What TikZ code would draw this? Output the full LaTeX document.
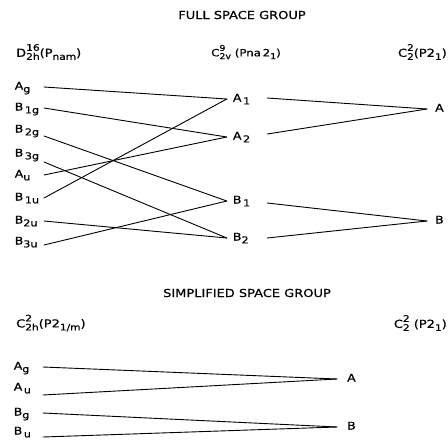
\documentclass[tikz,border=0pt]{standalone}
\usepackage{fontspec}
\setmainfont{DejaVu Sans}[FakeStretch=1.18, FakeBold=0.6]
% subscript only
\newcommand{\Sb}[3][9.5]{#2\raisebox{-0.5ex}{\fontsize{#1}{#1}\selectfont #3}}
% superscript over subscript
\newcommand{\SbSp}[4][9]{#2\rlap{\raisebox{1.0ex}{\fontsize{#1}{#1}\selectfont #3}}\raisebox{-0.5ex}{\fontsize{#1}{#1}\selectfont #4}}
\begin{document}
\begin{tikzpicture}[x=1pt,y=-1pt,
  title/.style={font=\fontsize{11}{13}\selectfont, inner sep=0pt},
  head/.style={font=\fontsize{11}{13}\selectfont, inner sep=0pt},
  headsm/.style={font=\fontsize{10}{12}\selectfont, inner sep=0pt},
  lbl/.style={font=\fontsize{10.5}{12}\selectfont, inner sep=0pt, text height=7pt, text depth=2pt},
  leftlbl/.style={lbl, anchor=east, text width=29pt, align=left},
  midlbl/.style={lbl, text width=28pt, inner xsep=6pt, align=left},
  rightlbl/.style={lbl, anchor=west, inner xsep=8pt},
  simplbl/.style={lbl, anchor=west, inner xsep=10pt},
  conn/.style={line width=0.9pt, line cap=round}]
\useasboundingbox (0,0) rectangle (448,440);

% titles
\node[title] (t1) at (242,15) {FULL SPACE GROUP};
\node[title] (t2) at (247,293) {SIMPLIFIED SPACE GROUP};

% headers full
\node[head, anchor=west] (h1) at (16,52) {\SbSp{D}{16}{2h}(P\Sb[9]{}{nam})};
\node[headsm, anchor=west] (h2) at (211,52) {\SbSp[8]{C}{9}{2v} (Pna\,2\Sb[8]{}{1})};
\node[head, anchor=east] (h3) at (447,52) {\SbSp{C}{2}{2}(P2\Sb[9]{}{1})};

% headers simplified
\node[head, anchor=west] (h4) at (16,323) {\SbSp{C}{2}{2h}(P2\Sb[9]{}{1/m})};
\node[head, anchor=east] (h5) at (447,323) {\SbSp{C}{2}{2} (P2\Sb[9]{}{1})};

% left labels (full)
\node[leftlbl] (Ag)  at (44,87)  {\Sb{A}{g}};
\node[leftlbl] (B1g) at (44,108) {\Sb{B}{\,1g}};
\node[leftlbl] (B2g) at (44,130) {\Sb{B}{\,2g}};
\node[leftlbl] (B3g) at (44,154) {\Sb{B}{\,3g}};
\node[leftlbl] (Au)  at (44,175) {\Sb{A}{u}};
\node[leftlbl] (B1u) at (44,198) {\Sb{B}{\,1u}};
\node[leftlbl] (B2u) at (44,221) {\Sb{B}{2u}};
\node[leftlbl] (B3u) at (44,242) {\Sb{B}{3u}};

% middle labels
\node[midlbl] (A1) at (247,99)  {\Sb{A}{\,1}};
\node[midlbl] (A2) at (247,137) {\Sb{A}{\,2}};
\node[midlbl] (B1) at (247,201) {\Sb{B}{\,1}};
\node[midlbl] (B2) at (247,238) {\Sb{B}{2}};

% right labels
\node[rightlbl] (RA) at (427,109) {A};
\node[rightlbl] (RB) at (427,221) {B};

% connectors full
\draw[conn] (Ag.east) -- (A1.west);
\draw[conn] (B1g.east) -- (A2.west);
\draw[conn] ([yshift=-6pt]B2g.east) -- (B1.west);
\draw[conn] ([yshift=-8pt]B3g.east) -- (B2.west);
\draw[conn] (Au.east) -- (A2.west);
\draw[conn] (B1u.east) -- (A1.west);
\draw[conn] (B2u.east) -- (B2.west);
\draw[conn] ([yshift=-3pt]B3u.east) -- (B1.west);
\draw[conn] ([yshift=1pt]A1.east) -- (RA.west);
\draw[conn] ([yshift=3pt]A2.east) -- (RA.west);
\draw[conn] ([yshift=-2pt]B1.east) -- (RB.west);
\draw[conn] (B2.east) -- (RB.west);

% simplified
\node[leftlbl] (sAg) at (43,367) {\Sb{A}{g}};
\node[leftlbl] (sAu) at (43,388) {\Sb{A}{\,u}};
\node[leftlbl] (sBg) at (43,413) {\Sb{B}{g}};
\node[leftlbl] (sBu) at (43,432) {\Sb{B}{\,u}};
\node[simplbl] (sA) at (337,379) {A};
\node[simplbl] (sB) at (337,427) {B};

\draw[conn] (sAg.east) -- (sA.west);
\draw[conn] ([yshift=-7pt]sAu.east) -- (sA.west);
\draw[conn] (sBg.east) -- (sB.west);
\draw[conn] ([yshift=-5pt]sBu.east) -- (sB.west);
\end{tikzpicture}
\end{document}
